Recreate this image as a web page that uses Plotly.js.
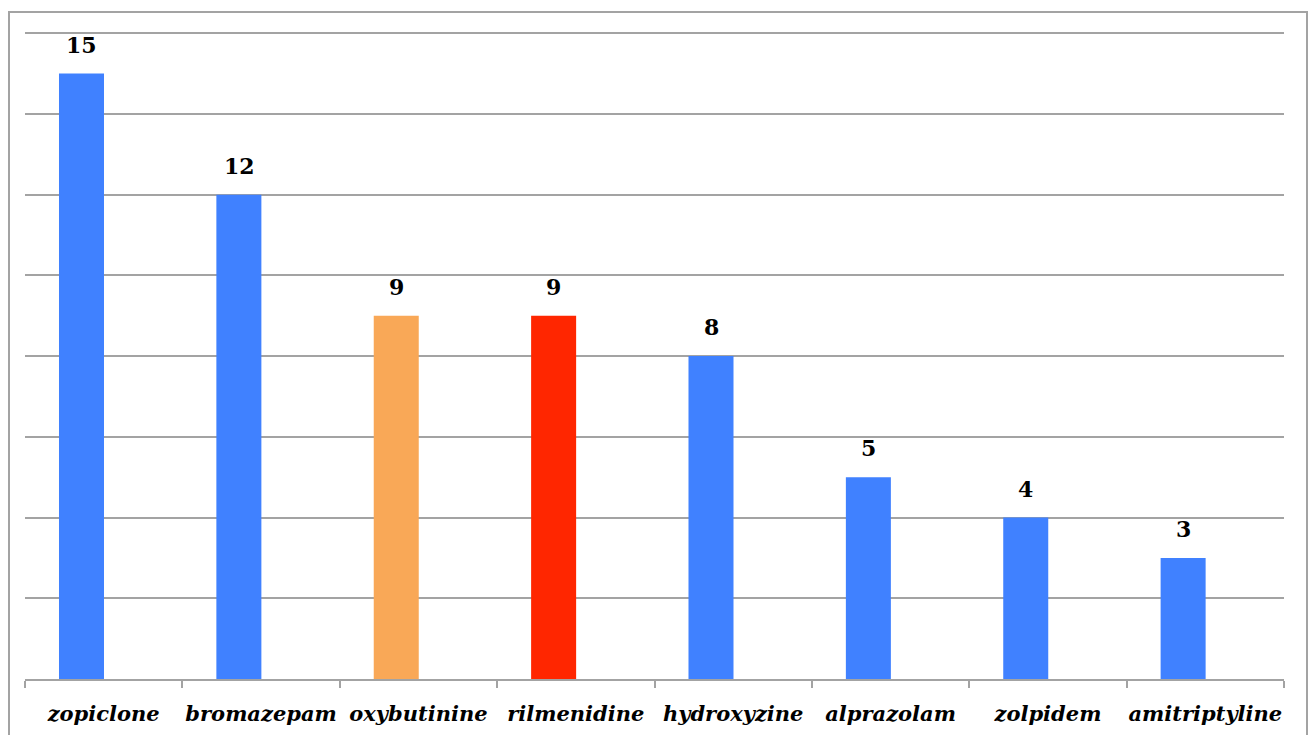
<!DOCTYPE html>
<html><head><meta charset="utf-8">
<script src="https://cdn.plot.ly/plotly-3.0.1.min.js"></script>
<style>
html,body{margin:0;padding:0;background:#fff;}
#frame{position:absolute;left:8px;top:11px;width:1300px;height:740px;border:2px solid #a3a3a3;box-sizing:border-box;}
#chart{position:absolute;left:0;top:0;width:1316px;height:735px;}
</style></head>
<body>
<div id="frame"></div>
<div id="chart"></div>
<script>
const categories = ["zopiclone","bromazepam","oxybutinine","rilmenidine","hydroxyzine","alprazolam","zolpidem","amitriptyline"];
const values = [15,12,9,9,8,5,4,3];
const barColors = ["#4081FF","#4081FF","#F9A857","#FF2600","#4081FF","#4081FF","#4081FF","#4081FF"];

const trace = {
  type:"bar", x:categories, y:values,
  marker:{color:barColors},
  width:0.286, offset:-0.284, hoverinfo:"none"
};
const annotations = categories.map((c,i)=>({
  x:c, y:values[i], xref:"x", yref:"y", text:String(values[i]),
  showarrow:false, yanchor:"bottom", yshift:14, xshift:-22,
  font:{family:"DejaVu Serif", size:22, color:"#000", weight:"bold"}
}));
const layout = {
  width:1316, height:735,
  margin:{l:25, r:32, t:32, b:56},
  paper_bgcolor:"rgba(0,0,0,0)", plot_bgcolor:"rgba(0,0,0,0)",
  showlegend:false,
  xaxis:{type:"category", showline:true, linecolor:"#a3a3a3", linewidth:2,
    ticks:"outside", tickson:"boundaries", ticklen:7, tickcolor:"#a3a3a3", tickwidth:2,
    tickangle:0,
    tickfont:{family:"DejaVu Serif", size:21, color:"#000", weight:"bold", style:"italic"},
    ticklabelstandoff:15, showgrid:false},
  yaxis:{range:[0,16.03], tickvals:[2,4,6,8,10,12,14,16], showticklabels:false, showgrid:true, gridcolor:"#a3a3a3",
    gridwidth:2, zeroline:false, showline:false, ticks:""},
  annotations:annotations
};
Plotly.newPlot("chart",[trace],layout,{displayModeBar:false,staticPlot:true});
</script>
</body></html>
